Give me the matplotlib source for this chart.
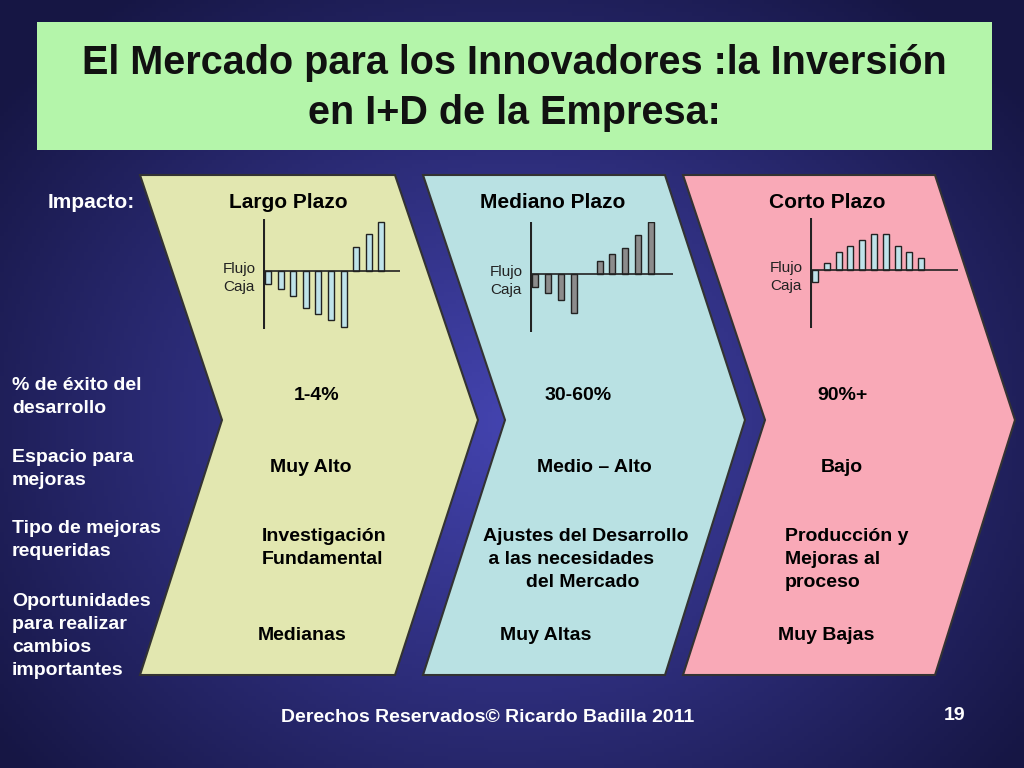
import numpy as np
import matplotlib
matplotlib.use("Agg")
import matplotlib.pyplot as plt
from matplotlib.patches import Polygon, Rectangle

plt.rcParams["font.family"] = "Liberation Sans"

stages = ["Largo Plazo", "Mediano Plazo", "Corto Plazo"]
flujo_largo = [-13, -18, -25, -37, -43, -49, -56, 24, 37, 49]
flujo_mediano = [-13, -19, -26, -39, 0, 13, 20, 26, 39, 52]
flujo_corto = [-12, 7, 18, 24, 30, 36, 36, 24, 18, 12]
exito = ["1-4%", "30-60%", "90%+"]
espacio = ["Muy Alto", "Medio – Alto", "Bajo"]
tipo = ["Investigación\nFundamental", "Ajustes del Desarrollo\n a las necesidades\n        del Mercado", "Producción y\nMejoras al\nproceso"]
oport = ["Medianas", "Muy Altas", "Muy Bajas"]
row_labels = ["% de éxito del\ndesarrollo", "Espacio para\nmejoras", "Tipo de mejoras\nrequeridas", "Oportunidades\npara realizar\ncambios\nimportantes"]

W, H = 1024, 768
fig = plt.figure(figsize=(W/100, H/100), dpi=100)
ax = fig.add_axes([0, 0, 1, 1])
ax.set_xlim(0, W); ax.set_ylim(H, 0); ax.axis("off")

yy, xx = np.mgrid[0:H:4, 0:W:4]
r = np.sqrt(((xx - 512) / 640) ** 2 + ((yy - 420) / 540) ** 2)
c0 = np.array([0x44, 0x44, 0xb0]) / 255
c1 = np.array([0x16, 0x16, 0x44]) / 255
t = np.clip(r, 0, 1)[..., None]
img = c0 * (1 - t) + c1 * t
ax.imshow(img, extent=(0, W, H, 0), aspect="auto", zorder=0)

ax.add_patch(Rectangle((37, 22), 955, 128, facecolor="#b4f5aa", edgecolor="none", zorder=1))
ax.text(514, 88, "El Mercado para los Innovadores :la Inversión\nen I+D de la Empresa:", ha="center", va="center",
        fontsize=28.5, fontweight="bold", color="#111111", linespacing=1.4, zorder=2)

cols = ["#e2e7b0", "#b9e1e3", "#f9a9b7"]
lefts = [140, 423, 683]
rights = [395, 665, 935]
tips = [478, 745, 1015]
notch = [222, 505, 765]
for i in range(3):
    poly = [(lefts[i], 175), (rights[i], 175), (tips[i], 420), (rights[i], 675), (lefts[i], 675), (notch[i], 420)]
    ax.add_patch(Polygon(poly, closed=True, facecolor=cols[i], edgecolor="#333333", lw=1.5, zorder=1))

ax.text(48, 202, "Impacto:", color="white", fontsize=15, fontweight="bold", va="center")
stage_x = [288, 553, 827]
for i, s in enumerate(stages):
    ax.text(stage_x[i], 202, s, color="black", fontsize=15, fontweight="bold", ha="center", va="center")

data = [flujo_largo, flujo_mediano, flujo_corto]
axes_x0 = [263, 530, 810]
base_y = [271, 274, 270]
bar_fc = ["#bfe3ea", "#8c8c8c", "#bfe3ea"]
xlim_right = [400, 673, 958]
for i in range(3):
    x0 = axes_x0[i]
    x1 = xlim_right[i]
    top = base_y[i] - 52
    bottom = base_y[i] + 58
    iax = fig.add_axes([x0 / W, 1 - bottom / H, (x1 - x0) / W, (bottom - top) / H])
    iax.set_xlim(0, x1 - x0)
    iax.set_ylim(-(bottom - base_y[i]), base_y[i] - top)
    iax.axis("off")
    n = len(data[i])
    sp = [12.6, 12.9, 11.8][i]
    xs = 2 + sp * np.arange(n) + 3
    vals = np.array(data[i], dtype=float)
    mask = vals != 0
    iax.bar(xs[mask], vals[mask], width=6, color=bar_fc[i], edgecolor="#222222", lw=1, align="center")
    iax.axhline(0, color="#222222", lw=1.2)
    iax.axvline(0.5, color="#222222", lw=1.5)
    ax.text(x0 - 40, base_y[i] + 7, "Flujo\nCaja", fontsize=11, ha="left", va="center", color="#222222", linespacing=1.3, zorder=3)

lab_y = [397, 469, 540, 636]
for k in range(4):
    ax.text(12, lab_y[k], row_labels[k], color="white", fontsize=14, fontweight="bold", va="center", linespacing=1.45)

cx = [[317, 578, 842], [311, 594, 842], [262, 483, 785], [302, 546, 826]]
for i in range(3):
    ax.text(cx[0][i], 395, exito[i], fontsize=14, fontweight="bold", ha="center", va="center")
    ax.text(cx[1][i], 467, espacio[i], fontsize=14, fontweight="bold", ha="center", va="center")
    ax.text(cx[2][i], 528, tipo[i], fontsize=14, fontweight="bold", ha="left", va="top", linespacing=1.45)
    ax.text(cx[3][i], 636, oport[i], fontsize=14, fontweight="bold", ha="center", va="center")

ax.text(488, 718, "Derechos Reservados© Ricardo Badilla 2011", color="white", fontsize=14, fontweight="bold", ha="center", va="center")
ax.text(955, 716, "19", color="white", fontsize=14, fontweight="bold", ha="center", va="center")

fig.savefig("out.png", dpi=100)
